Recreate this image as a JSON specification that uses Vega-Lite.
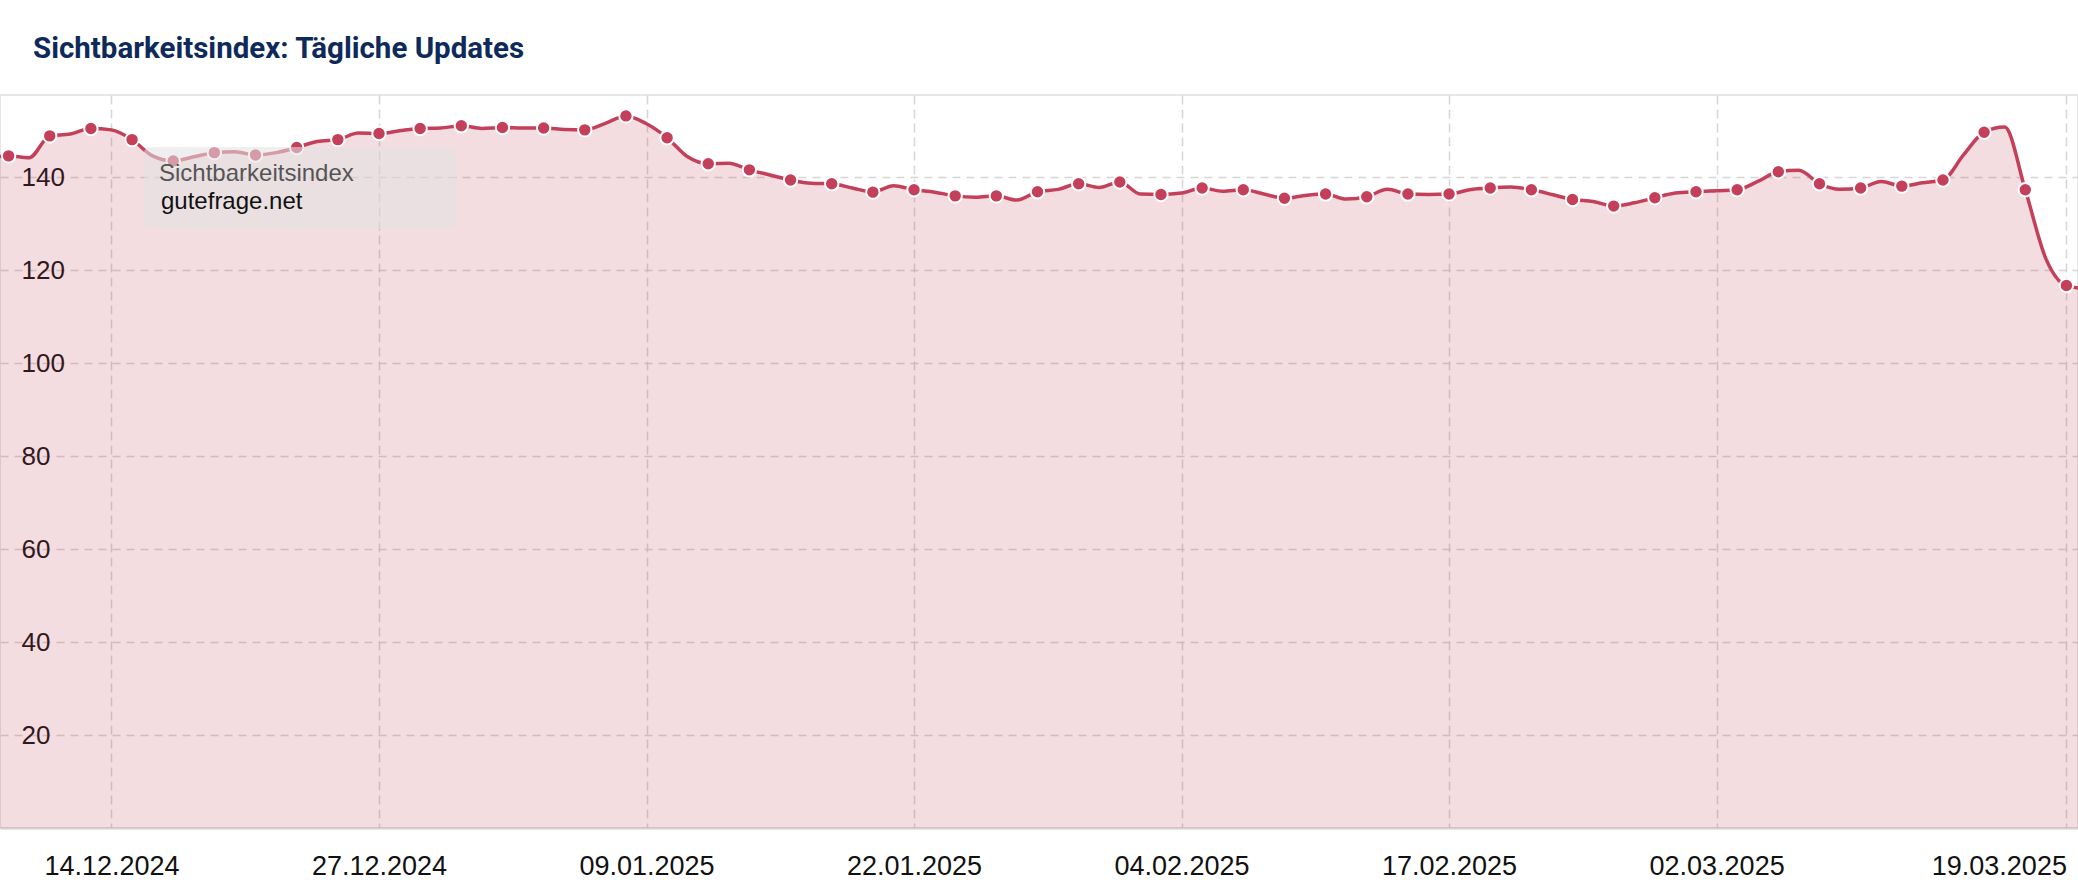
{
  "$schema": "https://vega.github.io/schema/vega-lite/v6.json",
  "width": 2078,
  "height": 733,
  "autosize": {"type": "none"},
  "padding": {"left": 0, "right": 0, "top": 95, "bottom": 68},
  "background": "white",
  "title": {
    "text": "Sichtbarkeitsindex: Tägliche Updates",
    "anchor": "start",
    "frame": "group",
    "font": "Roboto",
    "fontSize": 29.5,
    "fontWeight": "bold",
    "color": "#0e2a5a",
    "baseline": "alphabetic",
    "offset": 8,
    "dx": 33
  },
  "config": {"view": {"stroke": "#e6e6e6", "strokeWidth": 2}},
  "data": {
    "values": [
      {"date": "2024-12-08", "value": 144.0},
      {"date": "2024-12-09", "value": 144.6},
      {"date": "2024-12-10", "value": 144.2},
      {"date": "2024-12-11", "value": 148.9},
      {"date": "2024-12-12", "value": 149.3},
      {"date": "2024-12-13", "value": 150.5},
      {"date": "2024-12-14", "value": 150.2},
      {"date": "2024-12-15", "value": 148.1},
      {"date": "2024-12-16", "value": 144.6},
      {"date": "2024-12-17", "value": 143.5},
      {"date": "2024-12-18", "value": 144.4},
      {"date": "2024-12-19", "value": 145.3},
      {"date": "2024-12-20", "value": 145.5},
      {"date": "2024-12-21", "value": 144.8},
      {"date": "2024-12-22", "value": 145.3},
      {"date": "2024-12-23", "value": 146.4},
      {"date": "2024-12-24", "value": 147.7},
      {"date": "2024-12-25", "value": 148.1},
      {"date": "2024-12-26", "value": 149.5},
      {"date": "2024-12-27", "value": 149.4},
      {"date": "2024-12-28", "value": 150.0},
      {"date": "2024-12-29", "value": 150.5},
      {"date": "2024-12-30", "value": 150.6},
      {"date": "2024-12-31", "value": 151.1},
      {"date": "2025-01-01", "value": 150.5},
      {"date": "2025-01-02", "value": 150.7},
      {"date": "2025-01-03", "value": 150.6},
      {"date": "2025-01-04", "value": 150.6},
      {"date": "2025-01-05", "value": 150.3},
      {"date": "2025-01-06", "value": 150.2},
      {"date": "2025-01-07", "value": 151.6},
      {"date": "2025-01-08", "value": 153.2},
      {"date": "2025-01-09", "value": 151.5},
      {"date": "2025-01-10", "value": 148.5},
      {"date": "2025-01-11", "value": 144.4},
      {"date": "2025-01-12", "value": 142.9},
      {"date": "2025-01-13", "value": 143.0},
      {"date": "2025-01-14", "value": 141.6},
      {"date": "2025-01-15", "value": 140.5},
      {"date": "2025-01-16", "value": 139.4},
      {"date": "2025-01-17", "value": 138.7},
      {"date": "2025-01-18", "value": 138.6},
      {"date": "2025-01-19", "value": 137.7},
      {"date": "2025-01-20", "value": 136.8},
      {"date": "2025-01-21", "value": 138.2},
      {"date": "2025-01-22", "value": 137.3},
      {"date": "2025-01-23", "value": 136.8},
      {"date": "2025-01-24", "value": 136.0},
      {"date": "2025-01-25", "value": 135.7},
      {"date": "2025-01-26", "value": 136.0},
      {"date": "2025-01-27", "value": 135.1},
      {"date": "2025-01-28", "value": 136.9},
      {"date": "2025-01-29", "value": 137.4},
      {"date": "2025-01-30", "value": 138.6},
      {"date": "2025-01-31", "value": 137.8},
      {"date": "2025-02-01", "value": 139.0},
      {"date": "2025-02-02", "value": 136.4},
      {"date": "2025-02-03", "value": 136.3},
      {"date": "2025-02-04", "value": 136.6},
      {"date": "2025-02-05", "value": 137.7},
      {"date": "2025-02-06", "value": 137.0},
      {"date": "2025-02-07", "value": 137.3},
      {"date": "2025-02-08", "value": 136.4},
      {"date": "2025-02-09", "value": 135.5},
      {"date": "2025-02-10", "value": 136.1},
      {"date": "2025-02-11", "value": 136.4},
      {"date": "2025-02-12", "value": 135.3},
      {"date": "2025-02-13", "value": 135.8},
      {"date": "2025-02-14", "value": 137.4},
      {"date": "2025-02-15", "value": 136.4},
      {"date": "2025-02-16", "value": 136.3},
      {"date": "2025-02-17", "value": 136.4},
      {"date": "2025-02-18", "value": 137.3},
      {"date": "2025-02-19", "value": 137.7},
      {"date": "2025-02-20", "value": 137.9},
      {"date": "2025-02-21", "value": 137.3},
      {"date": "2025-02-22", "value": 136.3},
      {"date": "2025-02-23", "value": 135.2},
      {"date": "2025-02-24", "value": 134.8},
      {"date": "2025-02-25", "value": 133.8},
      {"date": "2025-02-26", "value": 134.5},
      {"date": "2025-02-27", "value": 135.6},
      {"date": "2025-02-28", "value": 136.6},
      {"date": "2025-03-01", "value": 136.9},
      {"date": "2025-03-02", "value": 137.1},
      {"date": "2025-03-03", "value": 137.3},
      {"date": "2025-03-04", "value": 139.1},
      {"date": "2025-03-05", "value": 141.2},
      {"date": "2025-03-06", "value": 141.5},
      {"date": "2025-03-07", "value": 138.6},
      {"date": "2025-03-08", "value": 137.4},
      {"date": "2025-03-09", "value": 137.7},
      {"date": "2025-03-10", "value": 139.1},
      {"date": "2025-03-11", "value": 138.1},
      {"date": "2025-03-12", "value": 138.8},
      {"date": "2025-03-13", "value": 139.4},
      {"date": "2025-03-14", "value": 144.8},
      {"date": "2025-03-15", "value": 149.7},
      {"date": "2025-03-16", "value": 150.8},
      {"date": "2025-03-17", "value": 137.3},
      {"date": "2025-03-18", "value": 122.5},
      {"date": "2025-03-19", "value": 116.7},
      {"date": "2025-03-20", "value": 116.0}
    ]
  },
  "encoding": {
    "x": {
      "field": "date",
      "type": "temporal",
      "scale": {
        "domain": [
          {"year": 2024, "month": 12, "date": 8, "hours": 14},
          {"year": 2025, "month": 3, "date": 19, "hours": 13, "minutes": 30}
        ],
        "nice": false
      },
      "axis": {
        "title": null,
        "values": [
          {"year": 2024, "month": 12, "date": 14},
          {"year": 2024, "month": 12, "date": 27},
          {"year": 2025, "month": 1, "date": 9},
          {"year": 2025, "month": 1, "date": 22},
          {"year": 2025, "month": 2, "date": 4},
          {"year": 2025, "month": 2, "date": 17},
          {"year": 2025, "month": 3, "date": 2},
          {"year": 2025, "month": 3, "date": 19}
        ],
        "format": "%d.%m.%Y",
        "domainColor": "#d2d2d2",
        "domainWidth": 2,
        "ticks": false,
        "tickSize": 0,
        "labelPadding": 25,
        "labelFont": "Liberation Sans",
        "labelFontSize": 27,
        "labelColor": "#111111",
        "labelFlush": 15,
        "labelOverlap": false,
        "grid": true,
        "gridColor": "#cfcfcf",
        "gridOpacity": 0.85,
        "gridDash": [9, 5],
        "gridWidth": 1.5
      }
    },
    "y": {
      "field": "value",
      "type": "quantitative",
      "scale": {"domain": [0, 157.7], "nice": false},
      "axis": {
        "title": null,
        "values": [20, 40, 60, 80, 100, 120, 140],
        "domain": false,
        "ticks": false,
        "tickSize": 0,
        "labelAlign": "left",
        "labelPadding": -21,
        "labelBaseline": "middle",
        "labelFont": "Liberation Sans",
        "labelFontSize": 26,
        "labelColor": "#111111",
        "grid": true,
        "gridColor": "#cfcfcf",
        "gridOpacity": 0.85,
        "gridDash": [8, 6],
        "gridWidth": 1.5
      }
    }
  },
  "layer": [
    {
      "mark": {"type": "area", "interpolate": "monotone", "color": "#c4405a", "opacity": 0.18, "clip": true}
    },
    {
      "mark": {"type": "line", "interpolate": "monotone", "strokeWidth": 3.5, "clip": true},
      "encoding": {
        "color": {
          "datum": "gutefrage.net",
          "type": "nominal",
          "scale": {"range": ["#c4405a"]},
          "legend": {
            "title": "Sichtbarkeitsindex\u00a0\u00a0\u00a0\u00a0\u00a0\u00a0\u00a0\u00a0\u00a0\u00a0\u00a0\u00a0\u00a0\u200b",
            "orient": "none",
            "legendX": 144,
            "legendY": 52,
            "padding": 15,
            "fillColor": "rgba(226,226,226,0.56)",
            "cornerRadius": 6,
            "titleFont": "Liberation Sans",
            "titleFontSize": 24,
            "titleFontWeight": "normal",
            "titleColor": "#555555",
            "titlePadding": 4,
            "titleLimit": 500,
            "labelFont": "Liberation Sans",
            "labelFontSize": 24,
            "labelColor": "#111111",
            "labelLimit": 500,
            "labelOffset": -22,
            "symbolType": "circle",
            "symbolSize": 0.01,
            "symbolOpacity": 0,
            "symbolStrokeWidth": 0
          }
        }
      }
    },
    {
      "transform": [
        {"filter": "round((toDate(datum.date) - datetime(2024, 11, 9)) / 86400000) % 2 == 0"}
      ],
      "mark": {"type": "point", "filled": true, "fill": "#c4405a", "stroke": "white", "strokeWidth": 2, "size": 180, "opacity": 1, "clip": true}
    }
  ]
}
